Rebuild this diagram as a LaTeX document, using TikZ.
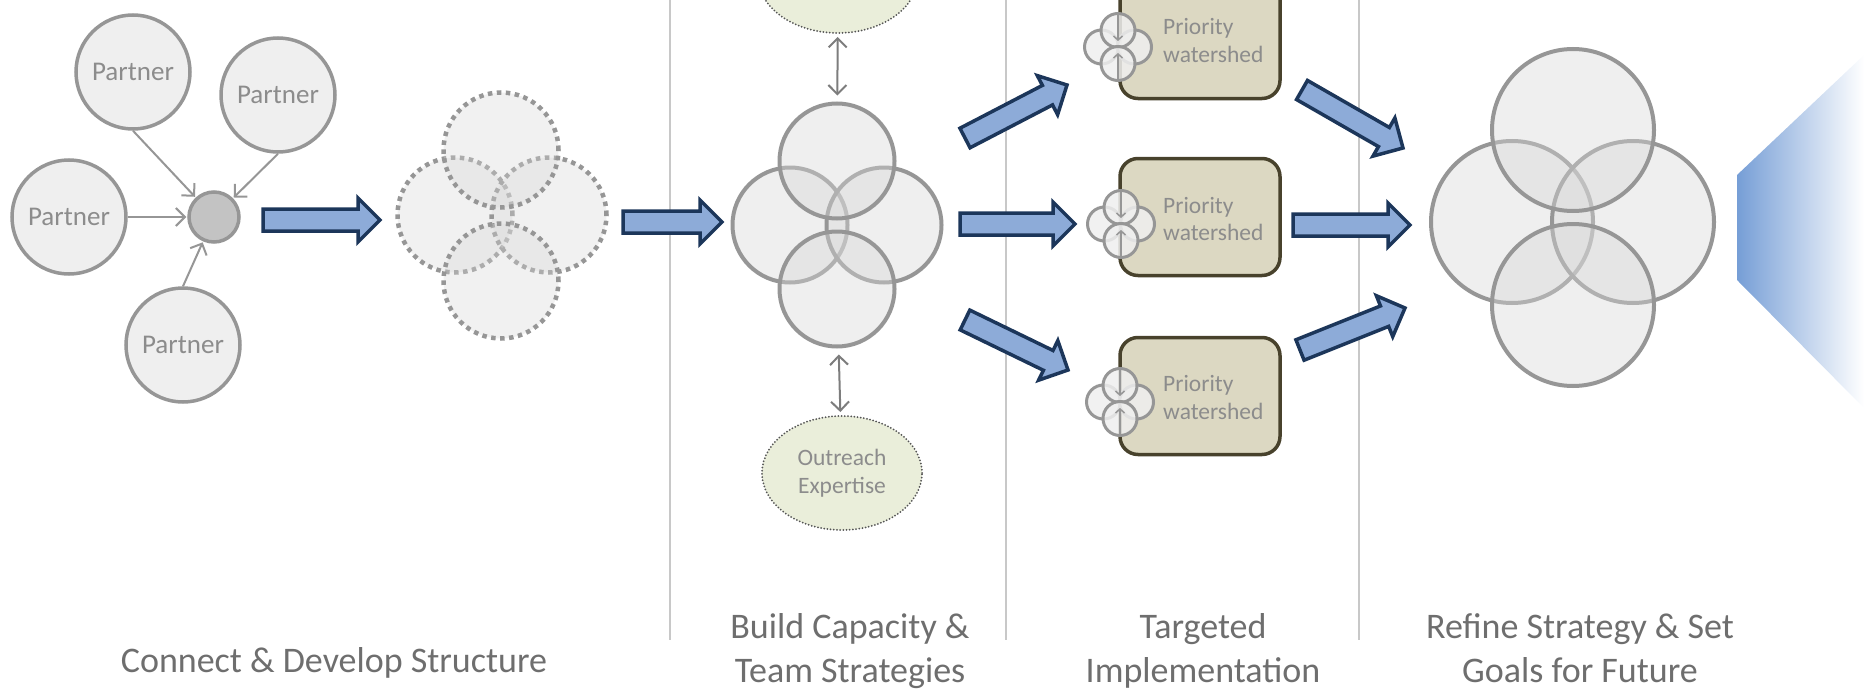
\documentclass[tikz,border=0pt]{standalone}
\usepackage{fontspec}
\setmainfont{Carlito}
\usetikzlibrary{arrows.meta,calc,shapes.geometric}
\definecolor{cgray}{RGB}{150,150,150}
\definecolor{cfill}{RGB}{239,239,239}
\definecolor{chub}{RGB}{195,195,195}
\definecolor{ctext}{RGB}{140,140,140}
\definecolor{cover}{RGB}{215,215,215}
\definecolor{cdbl}{RGB}{125,125,125}
\definecolor{navy}{RGB}{28,54,90}
\definecolor{lblue}{RGB}{141,171,216}
\definecolor{csep}{RGB}{200,200,200}
\definecolor{clab}{RGB}{110,110,110}
\definecolor{egreen}{RGB}{234,238,218}
\definecolor{edot}{RGB}{85,85,85}
\definecolor{boxfill}{RGB}{220,216,194}
\definecolor{boxline}{RGB}{72,66,44}
\definecolor{gblue}{RGB}{118,158,214}
\tikzset{
  partner/.style={circle, draw=cgray, line width=3.5pt, fill=cfill, minimum size=114pt, inner sep=0pt, text=ctext, font=\fontsize{27}{32}\selectfont},
  hubc/.style={circle, draw=cgray, line width=3.5pt, fill=chub, minimum size=50pt, inner sep=0pt},
  feed/.style={draw=cgray, line width=2pt, shorten >=1pt, -{Straight Barb[length=9pt,width=18pt]}},
  dotc/.style={circle, draw=cgray, line width=4.5pt, dash pattern=on 4.5pt off 4.5pt, fill=cover, fill opacity=0.35, minimum size=115pt, inner sep=0pt},
  bigc/.style={circle, draw=cgray, line width=4pt, fill=cover, fill opacity=0.4, minimum size=#1, inner sep=0pt},
  minic/.style={circle, draw=cgray, line width=3pt, fill=cfill, fill opacity=0.85, minimum size=34pt, inner sep=0pt},
  minia/.style={draw=cgray, line width=1.5pt, -{Straight Barb[length=4pt,width=9pt]}},
  dbl/.style={draw=cdbl, line width=2pt, {Straight Barb[length=9pt,width=18pt]}-{Straight Barb[length=9pt,width=18pt]}},
  ell/.style={ellipse, draw=edot, line width=2pt, line cap=round, dash pattern=on 0pt off 3.2pt, fill=egreen, minimum width=160pt, minimum height=114pt, inner sep=0pt, text=ctext, align=center, font=\fontsize{23.5}{28}\selectfont},
  wbox/.style={rectangle, rounded corners=18pt, draw=boxline, line width=3.5pt, fill=boxfill, minimum width=160pt, minimum height=117pt, inner sep=0pt},
  wtext/.style={anchor=west, inner sep=0pt, text=ctext, align=left, font=\fontsize{23.5}{28}\selectfont},
  blockarr/.style={draw=navy, fill=lblue, line width=3.5pt, line join=miter},
  sepline/.style={draw=csep, line width=2pt},
  lab/.style={text=clab, align=center, inner sep=0pt, font=\fontsize{36}{44}\selectfont}
}
\makeatletter
\newcommand\blockarrow[2]{%
  \pgfmathanglebetweenpoints{\pgfpointanchor{#1}{center}}{\pgfpointanchor{#2}{center}}%
  \let\baang\pgfmathresult
  \pgfpointdiff{\pgfpointanchor{#1}{center}}{\pgfpointanchor{#2}{center}}%
  \pgfmathveclen{\pgf@x}{\pgf@y}%
  \let\balen\pgfmathresult
  \pgfmathsetmacro\babase{\balen-22}%
  \begin{scope}[shift={(#1)},rotate=\baang]
    \draw[blockarr] (0pt,-11pt) -- (\babase pt,-11pt) -- (\babase pt,-22pt) -- (\balen pt,0pt) -- (\babase pt,22pt) -- (\babase pt,11pt) -- (0pt,11pt) -- cycle;
  \end{scope}}
\makeatother
\newcommand\minicluster[3]{%
  \begin{scope}[shift={(#2,#3)}]
    \node[minic] (#1l) at (-16.5,0) {};
    \node[minic] (#1r) at (16.5,0) {};
    \node[minic] (#1t) at (0,-16.5) {};
    \node[minic] (#1b) at (0,16.5) {};
    \draw[minia] (#1t.north) -- (0,-6);
    \draw[minia] (#1b.south) -- (0,6);
  \end{scope}}
\begin{document}
\begin{tikzpicture}[x=1pt,y=-1pt]
\useasboundingbox (0,0) rectangle (1864,693);
\clip (0,0) rectangle (1864,693);
% separators
\draw[sepline] (670,0) -- (670,640);
\draw[sepline] (1006,0) -- (1006,640);
\draw[sepline] (1359,0) -- (1359,640);
% gradient shape
\shade[left color=gblue, right color=white] (1737,175) -- (1864,55) -- (1864,408) -- (1737,280) -- cycle;
% partners
\node[partner] (p1) at (133,72) {Partner};
\node[partner] (p2) at (278,95) {Partner};
\node[partner] (p3) at (69,217) {Partner};
\node[partner] (p4) at (183,345) {Partner};
\node[hubc] (hub) at (214,217) {};
\draw[feed] (p1.south) -- (hub);
\draw[feed] (p2.south) -- (hub);
\draw[feed] (p3) -- (hub);
\draw[feed] (p4.north) -- (hub);
% dotted cluster
\node[dotc] (dl) at (455,215) {};
\node[dotc] (dr) at (549,215) {};
\node[dotc] (dt) at (501,150) {};
\node[dotc] (db) at (501,281) {};
% build capacity cluster
\node[bigc=115pt] (bl) at (790,225) {};
\node[bigc=115pt] (br) at (884,225) {};
\node[bigc=115pt] (bt) at (837,161) {};
\node[bigc=115pt] (bb) at (837,289) {};
\node[ell] (ellT) at (838,-24) {};
\node[ell] (ellB) at (842,473) {Outreach\\Expertise};
\draw[dbl, shorten <=3pt, shorten >=6pt] (ellT) -- (bt);
\draw[dbl, shorten <=6pt, shorten >=3pt] (bb) -- (ellB);
% watershed boxes
\node[wbox] (w1) at (1200,40) {};
\node[wbox] (w2) at (1200,217) {};
\node[wbox] (w3) at (1200,396) {};
\minicluster{m1}{1118}{47}
\minicluster{m2}{1121}{224}
\minicluster{m3}{1120}{402}
\node[wtext] (w1t) at (1163,41) {Priority\\watershed};
\node[wtext] (w2t) at (1163,219) {Priority\\watershed};
\node[wtext] (w3t) at (1163,397) {Priority\\watershed};
% final cluster
\node[bigc=162pt] (fl) at (1512,222) {};
\node[bigc=162pt] (fr) at (1633,222) {};
\node[bigc=162pt] (ft) at (1573,130) {};
\node[bigc=162pt] (fb) at (1573,305) {};
% block arrows
\coordinate (a1s) at (263,220); \coordinate (a1e) at (380,220);
\coordinate (a2s) at (623,222); \coordinate (a2e) at (722,222);
\coordinate (a3us) at (965,138); \coordinate (a3ue) at (1067,85);
\coordinate (a3ms) at (960,224); \coordinate (a3me) at (1075,224);
\coordinate (a3ds) at (965,320); \coordinate (a3de) at (1068,370);
\coordinate (a4us) at (1302,90); \coordinate (a4ue) at (1403,148);
\coordinate (a4ms) at (1293,225); \coordinate (a4me) at (1410,225);
\coordinate (a4ds) at (1300,350); \coordinate (a4de) at (1405,308);
\blockarrow{a1s}{a1e}
\blockarrow{a2s}{a2e}
\blockarrow{a3us}{a3ue}
\blockarrow{a3ms}{a3me}
\blockarrow{a3ds}{a3de}
\blockarrow{a4us}{a4ue}
\blockarrow{a4ms}{a4me}
\blockarrow{a4ds}{a4de}
% labels
\node[lab, anchor=north] (l1) at (334,647) {Connect \& Develop Structure};
\node[lab, anchor=north] (l2) at (850,613) {Build Capacity \&\\Team Strategies};
\node[lab, anchor=north] (l3) at (1203,613) {Targeted\\Implementation};
\node[lab, anchor=north] (l4) at (1580,613) {Refine Strategy \& Set\\Goals for Future};
\end{tikzpicture}
\end{document}
